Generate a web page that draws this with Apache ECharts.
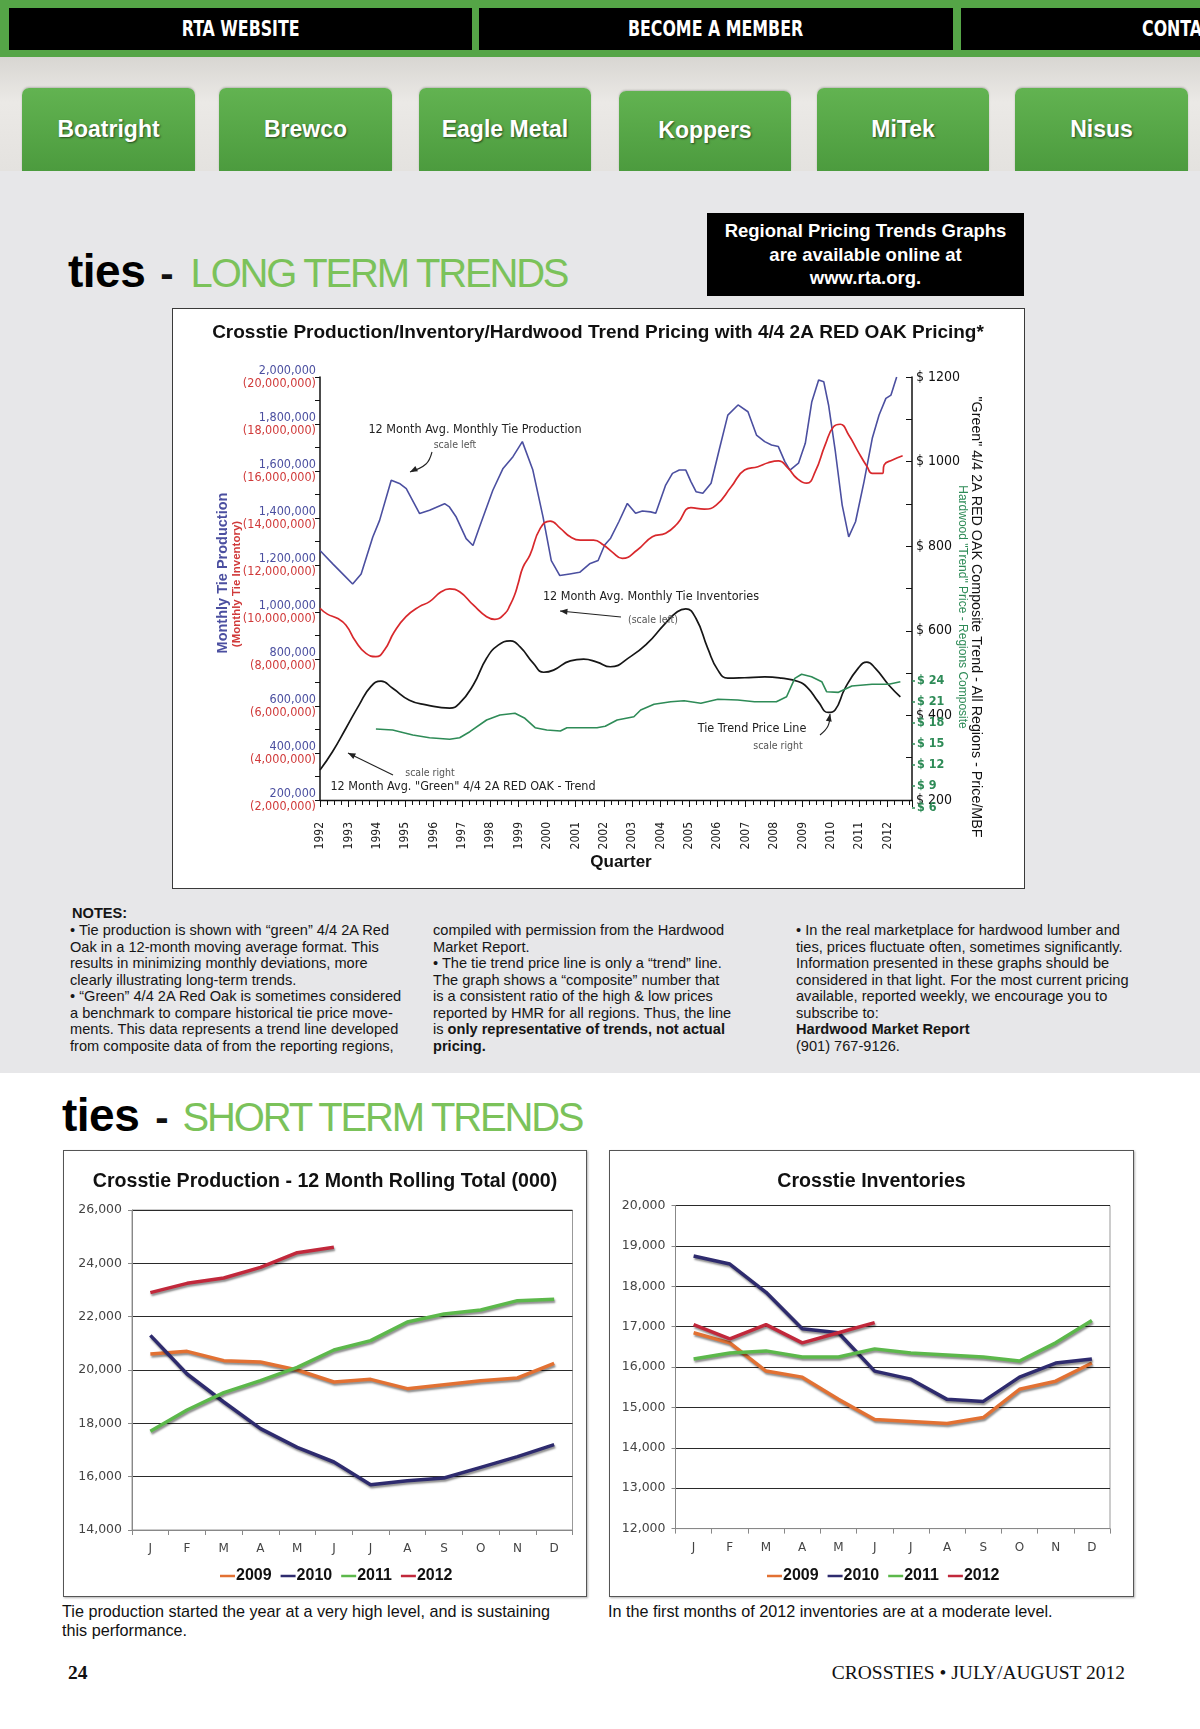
<!DOCTYPE html>
<html><head><meta charset="utf-8">
<script src="https://cdn.jsdelivr.net/npm/echarts@6/dist/echarts.min.js"></script>
<style>
html,body{margin:0;padding:0;width:1200px;height:1729px;overflow:hidden;background:#fff;font-family:'Liberation Sans',Arial,sans-serif;}
.abs{position:absolute;}
.nav{position:absolute;top:8px;height:42px;background:#000;color:#fff;text-align:center;font:bold 22px 'Liberation Sans Narrow','DejaVu Sans Condensed','Liberation Sans',sans-serif;line-height:42px;white-space:nowrap;overflow:hidden;}
.nav span{display:inline-block;transform:scaleX(0.8);}
.btn{position:absolute;top:88px;height:83px;border-radius:7px 7px 0 0;background:linear-gradient(#62b351,#4c9b3e);color:#fff;text-align:center;font:bold 23px 'Liberation Sans',Arial,sans-serif;line-height:83px;text-shadow:1px 1px 2px rgba(0,0,0,.55);box-shadow:0 -1px 2px rgba(0,0,0,.2);}
.head{position:absolute;white-space:nowrap;line-height:46px;}
.head .t{font:bold 46px 'Liberation Sans',Arial,sans-serif;color:#000;letter-spacing:-0.5px;}
.head .d{font:bold 40px 'Liberation Sans',Arial,sans-serif;color:#111;}
.head .g{font:40px 'Liberation Sans',Arial,sans-serif;color:#7bc25a;letter-spacing:-2.2px;}
.notes{position:absolute;font:14.6px 'Liberation Sans',Arial,sans-serif;line-height:16.5px;color:#151515;white-space:nowrap;}
.box{position:absolute;background:#fff;box-sizing:border-box;}
.cap{position:absolute;font:16.2px 'Liberation Sans',Arial,sans-serif;line-height:18.8px;color:#111;white-space:nowrap;}
</style></head><body>
<!-- navigation -->
<div class="abs" style="left:0;top:0;width:1200px;height:57px;background:#55a547;"></div>
<div class="nav" style="left:9px;width:463px;"><span>RTA WEBSITE</span></div>
<div class="nav" style="left:479px;width:474px;"><span>BECOME A MEMBER</span></div>
<div class="nav" style="left:961px;width:474px;"><span>CONTACT US</span></div>
<div class="abs" style="left:0;top:57px;width:1200px;height:114px;background:linear-gradient(#d8d6d2,#ebe9e6 40%,#e4e2df);"></div>
<div class="btn" style="left:22px;width:173px;">Boatright</div>
<div class="btn" style="left:219px;width:173px;">Brewco</div>
<div class="btn" style="left:419px;width:172px;">Eagle Metal</div>
<div class="btn" style="left:619px;width:172px;top:91px;height:80px;line-height:78px;">Koppers</div>
<div class="btn" style="left:817px;width:172px;">MiTek</div>
<div class="btn" style="left:1015px;width:173px;">Nisus</div>
<!-- grey section -->
<div class="abs" style="left:0;top:171px;width:1200px;height:902px;background:#e7e7e9;"></div>
<div class="head" style="left:68px;top:244px;"><span class="t">ties</span><span class="d" style="margin-left:15px;">-</span><span class="g" style="margin-left:17px;">LONG TERM TRENDS</span></div>
<div class="abs" style="left:707px;top:213px;width:317px;height:83px;background:#000;color:#fff;text-align:center;font:bold 18.5px 'Liberation Sans',Arial,sans-serif;line-height:23.5px;padding-top:6px;box-sizing:border-box;">Regional Pricing Trends Graphs<br>are available online at<br>www.rta.org.</div>
<div class="box" style="left:172px;top:308px;width:853px;height:581px;border:1.5px solid #3a3a3a;"></div>
<div id="c1" class="abs" style="left:172px;top:308px;width:853px;height:581px;"></div>
<div class="notes" style="left:72px;top:905px;font-weight:bold;">NOTES:</div>
<div class="notes" style="left:70px;top:922px;">• Tie production is shown with “green” 4/4 2A Red<br>Oak in a 12-month moving average format. This<br>results in minimizing monthly deviations, more<br>clearly illustrating long-term trends.<br>• “Green” 4/4 2A Red Oak is sometimes considered<br>a benchmark to compare historical tie price move-<br>ments. This data represents a trend line developed<br>from composite data of from the reporting regions,</div>
<div class="notes" style="left:433px;top:922px;">compiled with permission from the Hardwood<br>Market Report.<br>• The tie trend price line is only a “trend” line.<br>The graph shows a “composite” number that<br>is a consistent ratio of the high &amp; low prices<br>reported by HMR for all regions. Thus, the line<br>is <b>only representative of trends, not actual<br>pricing.</b></div>
<div class="notes" style="left:796px;top:922px;">• In the real marketplace for hardwood lumber and<br>ties, prices fluctuate often, sometimes significantly.<br>Information presented in these graphs should be<br>considered in that light. For the most current pricing<br>available, reported weekly, we encourage you to<br>subscribe to:<br><b>Hardwood Market Report</b><br>(901) 767-9126.</div>
<!-- short term -->
<div class="head" style="left:62px;top:1088px;"><span class="t">ties</span><span class="d" style="margin-left:16px;">-</span><span class="g" style="margin-left:14px;">SHORT TERM TRENDS</span></div>
<div class="box" style="left:63px;top:1150px;width:524px;height:447px;border:1px solid #555;box-shadow:1px 1px 2px rgba(0,0,0,.3);"></div>
<div id="c2" class="abs" style="left:63px;top:1150px;width:524px;height:447px;"></div>
<div class="box" style="left:609px;top:1150px;width:525px;height:447px;border:1px solid #555;box-shadow:1px 1px 2px rgba(0,0,0,.3);"></div>
<div id="c3" class="abs" style="left:609px;top:1150px;width:525px;height:447px;"></div>
<div class="cap" style="left:62px;top:1602px;">Tie production started the year at a very high level, and is sustaining<br>this performance.</div>
<div class="cap" style="left:608px;top:1602px;">In the first months of 2012 inventories are at a moderate level.</div>
<div class="abs" style="left:68px;top:1662px;font:bold 19.5px 'Liberation Serif','Times New Roman',serif;color:#111;">24</div>
<div class="abs" style="right:75px;top:1662px;font:19.5px 'Liberation Serif','Times New Roman',serif;color:#111;white-space:nowrap;">CROSSTIES • JULY/AUGUST 2012</div>
<script>
// ---------- long-term data ----------
const prodYears = [1992.0,1992.45,1992.86,1993.15,1993.45,1993.86,1994.10,1994.51,1994.80,1995.04,1995.51,1995.86,1996.39,1996.56,1996.80,1997.15,1997.39,1997.62,1998.09,1998.45,1998.80,1999.13,1999.50,1999.86,2000.15,2000.45,2000.80,2001.15,2001.50,2001.80,2002.03,2002.24,2002.53,2002.83,2003.12,2003.36,2003.65,2003.83,2004.18,2004.42,2004.66,2004.89,2005.07,2005.25,2005.49,2005.78,2006.08,2006.37,2006.73,2007.08,2007.38,2007.67,2007.91,2008.15,2008.38,2008.56,2008.86,2009.10,2009.33,2009.57,2009.75,2009.92,2010.16,2010.40,2010.63,2010.87,2011.17,2011.46,2011.70,2011.94,2012.12,2012.32];
const prodValues = [1262000,1205000,1155000,1119000,1162000,1319000,1390000,1561000,1547000,1525000,1419000,1433000,1461000,1447000,1404000,1312000,1283000,1362000,1518000,1611000,1661000,1725000,1604000,1404000,1219000,1155000,1162000,1169000,1205000,1219000,1285000,1314000,1384000,1462000,1420000,1430000,1426000,1420000,1540000,1590000,1604000,1604000,1555000,1512000,1505000,1548000,1697000,1838000,1881000,1852000,1753000,1725000,1711000,1704000,1640000,1604000,1633000,1718000,1895000,1987000,1980000,1881000,1682000,1455000,1320000,1384000,1555000,1739000,1838000,1909000,1923000,2000000];
const invYears = [1992.0,1992.26,1992.61,1992.91,1993.26,1993.62,1993.97,1994.27,1994.62,1995.03,1995.50,1995.86,1996.27,1996.57,1996.92,1997.40,1997.87,1998.16,1998.52,1998.70,1998.85,1998.98,1999.15,1999.40,1999.76,2000.11,2000.47,2000.82,2001.17,2001.64,2001.99,2002.30,2002.65,2003.18,2003.71,2004.18,2004.60,2005.07,2005.54,2005.96,2006.49,2006.96,2007.43,2007.79,2008.15,2008.50,2008.80,2009.15,2009.45,2009.80,2010.10,2010.33,2010.63,2010.93,2011.28,2011.46,2011.82,2011.88,2012.17,2012.53];
const invValues = [10160000,9910000,9730000,9450000,8740000,8240000,8100000,8380000,9160000,9800000,10230000,10440000,10860000,10980000,10860000,10300000,9800000,9690000,9940000,10300000,10700000,11200000,11900000,12430000,13560000,13870000,13560000,13200000,13060000,13060000,12850000,12550000,12280000,12640000,13200000,13350000,13770000,14440000,14380000,14550000,15330000,16040000,16180000,16350000,16430000,16110000,15690000,15480000,15970000,17110000,17890000,17990000,17530000,16890000,16180000,15900000,15900000,16260000,16470000,16650000];
const oakYears = [1992.0,1992.44,1992.91,1993.38,1993.79,1994.15,1994.56,1995.15,1995.74,1996.57,1996.92,1997.40,1997.87,1998.28,1998.70,1999.05,1999.52,1999.88,2000.23,2000.82,2001.29,2001.76,2002.23,2002.94,2003.53,2004.12,2004.59,2004.89,2005.25,2005.66,2006.02,2006.37,2006.96,2007.67,2008.26,2008.85,2009.20,2009.56,2009.91,2010.15,2010.50,2010.98,2011.27,2011.57,2012.04,2012.45];
const oakPrices = [271,314,369,425,468,481,464,436,425,417,429,472,535,566,576,562,523,502,507,529,533,526,515,539,570,614,645,652,629,559,507,488,489,491,488,480,464,432,407,413,464,513,526,511,472,444];
const tieYears = [1993.97,1994.56,1995.27,1995.86,1996.57,1996.92,1997.28,1997.87,1998.34,1998.87,1999.22,1999.58,1999.99,2000.47,2000.70,2001.29,2001.76,2002.05,2002.47,2003.06,2003.30,2003.77,2004.36,2004.83,2005.42,2006.02,2006.72,2007.31,2008.08,2008.44,2008.73,2008.97,2009.32,2009.68,2009.85,2010.27,2010.74,2011.45,2012.04,2012.45];
const tiePrices = [17.11,16.97,16.26,15.88,15.65,15.88,16.73,18.39,19.10,19.34,18.63,17.30,16.97,16.83,17.30,17.30,17.30,17.50,18.39,18.86,19.81,20.62,20.99,21.13,20.76,21.33,21.23,20.99,20.99,21.70,24.31,24.88,24.54,23.83,22.41,22.32,23.22,23.46,23.46,23.83];
// ---------- short-term data ----------
const months = ['J','F','M','A','M','J','J','A','S','O','N','D'];
const seriesYears = ['2009','2010','2011','2012'];
const prod2009 = [20600,20700,20350,20300,20000,19550,19650,19300,19450,19600,19700,20250];
const prod2010 = [21300,19850,18800,17800,17100,16550,15700,15850,15950,16350,16750,17200];
const prod2011 = [17700,18500,19150,19600,20100,20750,21100,21800,22100,22250,22600,22650];
const prod2012 = [22900,23250,23450,23850,24400,24600];
const inv2009 = [16850,16600,15900,15750,15200,14700,14650,14600,14750,15450,15650,16100];
const inv2010 = [18750,18550,17850,16950,16850,15900,15700,15200,15150,15750,16100,16200];
const inv2011 = [16200,16350,16400,16250,16250,16450,16350,16300,16250,16150,16600,17150];
const inv2012 = [17050,16700,17050,16600,16850,17100];

const narrow = "'Liberation Sans Narrow','DejaVu Sans Condensed','Liberation Sans',Arial,sans-serif";
const sans = "'Liberation Sans',Arial,sans-serif";
const zip = (a,b) => a.map((v,i)=>[v,b[i]]);
const fmt = v => Math.round(v).toLocaleString('en-US');

function txt(x,y,text,font,fill,rot){
  return {type:'text',x:x,y:y,rotation:rot||0,z:50,
    style:{text:text,font:font,fill:fill,align:'center',verticalAlign:'middle',textAlign:'center',textVerticalAlign:'middle'}};
}
function arrow(pts,color){
  const n=pts.length,[x2,y2]=pts[n-1],[x1,y1]=pts[n-2];
  const a=Math.atan2(y2-y1,x2-x1),L=8,w=0.38;
  return [
    {type:'polyline',z:50,shape:{points:pts,smooth:0.4},style:{stroke:color,lineWidth:1.1,fill:null}},
    {type:'polygon',z:50,shape:{points:[[x2,y2],[x2-L*Math.cos(a-w),y2-L*Math.sin(a-w)],[x2-L*Math.cos(a+w),y2-L*Math.sin(a+w)]]},style:{fill:color}}
  ];
}
const annFont = '12.5px ' + narrow, smallFont = '10.5px ' + narrow;
const blue='#4b4fa0', red='#d8282c', black='#161616', green='#2e8b57';

const c1 = echarts.init(document.getElementById('c1'), null, {renderer:'canvas'});
c1.setOption({
  animation:false,
  grid:[{left:148,right:113,top:69,bottom:89},{left:148,right:113,top:372.5,bottom:81.7}],
  xAxis:[
    {type:'value',gridIndex:0,min:1992,max:2012.86,interval:1,
     axisLine:{lineStyle:{color:'#111',width:1.4}},
     axisTick:{length:7,lineStyle:{color:'#111'}},
     minorTick:{show:true,splitNumber:4,length:5,lineStyle:{color:'#111'}},
     splitLine:{show:false},
     axisLabel:{rotate:90,fontSize:12,color:'#222',fontFamily:narrow,margin:22,showMaxLabel:false,
       formatter:v=>Math.abs(v-Math.round(v))<1e-6?String(Math.round(v)):''}},
    {type:'value',gridIndex:1,min:1992,max:2012.86,show:false}
  ],
  yAxis:[
    {type:'value',gridIndex:0,position:'left',min:200000,max:2000000,interval:200000,
     axisLine:{show:true,lineStyle:{color:'#111',width:1.5}},
     axisTick:{show:true,length:5,lineStyle:{color:'#111'}},
     minorTick:{show:true,splitNumber:2,length:5,lineStyle:{color:'#111'}},
     splitLine:{show:false},
     axisLabel:{margin:4,formatter:v=>'{b|'+fmt(v)+'}\n{r|('+fmt(v*10)+')}',
       rich:{b:{color:blue,fontSize:12.5,fontFamily:narrow,lineHeight:13,align:'right'},
             r:{color:'#d03a3a',fontSize:12.5,fontFamily:narrow,lineHeight:13,align:'right'}}}},
    {type:'value',gridIndex:0,position:'left',min:2000000,max:20000000,show:false},
    {type:'value',gridIndex:0,position:'right',min:200,max:1200,interval:200,
     axisLine:{show:true,lineStyle:{color:'#111',width:1.5}},
     axisTick:{show:true,inside:true,length:6,lineStyle:{color:'#111'}},
     minorTick:{show:true,splitNumber:2,length:6,lineStyle:{color:'#111'}},
     splitLine:{show:false},
     axisLabel:{formatter:v=>'$ '+v,fontSize:14,fontFamily:narrow,color:'#111',margin:4}},
    {type:'value',gridIndex:1,position:'right',min:6,max:24,interval:3,
     axisLine:{show:true,lineStyle:{color:'rgba(0,0,0,0)'}},
     axisTick:{show:true,length:3,lineStyle:{color:green,width:1.5}},
     splitLine:{show:false},
     axisLabel:{formatter:v=>'$ '+v,fontSize:12.5,fontWeight:'bold',fontFamily:narrow,color:green,margin:5}}
  ],
  series:[
    {name:'Tie Production',type:'line',xAxisIndex:0,yAxisIndex:0,data:zip(prodYears,prodValues),showSymbol:false,
     lineStyle:{color:blue,width:1.6},itemStyle:{color:blue}},
    {name:'Tie Inventories',type:'line',xAxisIndex:0,yAxisIndex:1,data:zip(invYears,invValues),showSymbol:false,smooth:0.5,
     lineStyle:{color:red,width:1.7},itemStyle:{color:red}},
    {name:'Red Oak Trend',type:'line',xAxisIndex:0,yAxisIndex:2,data:zip(oakYears,oakPrices),showSymbol:false,smooth:0.5,
     lineStyle:{color:black,width:1.7},itemStyle:{color:black}},
    {name:'Tie Trend Price',type:'line',xAxisIndex:1,yAxisIndex:3,data:zip(tieYears,tiePrices),showSymbol:false,clip:false,
     lineStyle:{color:green,width:1.6},itemStyle:{color:green}}
  ],
  graphic:[].concat(
    [txt(426,25,'Crosstie Production/Inventory/Hardwood Trend Pricing with 4/4 2A RED OAK Pricing*','bold 19px '+sans,'#111'),
     txt(51,265,'Monthly Tie Production','bold 14.5px '+sans,blue,Math.PI/2),
     txt(65,276,'(Monthly Tie Inventory)','bold 11.5px '+sans,'#d03a3a',Math.PI/2),
     txt(804,309,'"Green" 4/4 2A RED OAK Composite Trend - All Regions - Price/MBF','14.3px '+sans,'#111',-Math.PI/2),
     txt(790,299,'Hardwood "Trend" Price - Regions Composite','12px '+sans,green,-Math.PI/2),
     txt(449,554,'Quarter','bold 17px '+sans,'#111'),
     txt(303,122,'12 Month Avg. Monthly Tie Production',annFont,'#222'),
     txt(283,137,'scale left',smallFont,'#555'),
     txt(479,289,'12 Month Avg. Monthly Tie Inventories',annFont,'#222'),
     txt(481,312,'(scale left)',smallFont,'#555'),
     txt(580,421,'Tie Trend Price Line',annFont,'#222'),
     txt(606,438,'scale right',smallFont,'#555'),
     txt(291,479,'12 Month Avg. "Green" 4/4 2A RED OAK - Trend',annFont,'#222'),
     txt(258,465,'scale right',smallFont,'#555')],
    arrow([[260,144],[254,156],[238,164]],'#222'),
    arrow([[449,309],[388,303]],'#222'),
    arrow([[648,427],[656,418],[658,406]],'#222'),
    arrow([[221,467],[176,445]],'#222')
  )
});

const yearColors = ['#e27133','#2e2b6e','#5cb84b','#c1283b'];
function shortOption(title, grid, yMin, yMax, yInt, datasets, legendLeft){
  return {
    animation:false,
    title:{text:title,left:'center',top:17,textStyle:{fontFamily:sans,fontWeight:'bold',fontSize:19.6,color:'#111'}},
    grid:Object.assign({show:true,borderColor:'#999',borderWidth:1,backgroundColor:'transparent'},grid),
    legend:{left:legendLeft,top:413,icon:'rect',itemWidth:15,itemHeight:2.5,itemGap:9,
      textStyle:{fontFamily:sans,fontWeight:'bold',fontSize:16,color:'#111',padding:[0,0,0,-4]},
      data:seriesYears},
    xAxis:{type:'category',data:months,boundaryGap:true,
      axisLine:{lineStyle:{color:'#888'}},axisTick:{show:true,length:5,lineStyle:{color:'#888'}},
      axisLabel:{fontFamily:"'DejaVu Sans',Verdana,sans-serif",fontSize:12,color:'#444',margin:13}},
    yAxis:{type:'value',min:yMin,max:yMax,interval:yInt,
      axisLine:{show:true,lineStyle:{color:'#888'}},axisTick:{show:true,length:4,lineStyle:{color:'#888'}},
      splitLine:{lineStyle:{color:'#2a2a2a',width:1}},
      axisLabel:{fontFamily:"'DejaVu Sans',Verdana,sans-serif",fontSize:12.5,color:'#444',margin:10,formatter:v=>fmt(v)}},
    series:datasets.map((d,i)=>({name:seriesYears[i],type:'line',data:d,showSymbol:false,
      lineStyle:{color:yearColors[i],width:3.5,shadowColor:'rgba(0,0,0,0.45)',shadowBlur:2,shadowOffsetX:1,shadowOffsetY:2},
      itemStyle:{color:yearColors[i]}}))
  };
}
const c2 = echarts.init(document.getElementById('c2'));
c2.setOption(shortOption('Crosstie Production - 12 Month Rolling Total (000)',
  {left:69,right:14.5,top:60,bottom:67},14000,26000,2000,[prod2009,prod2010,prod2011,prod2012],152));
const c3 = echarts.init(document.getElementById('c3'));
c3.setOption(shortOption('Crosstie Inventories',
  {left:66.5,right:24,top:55.5,bottom:68.4},12000,20000,1000,[inv2009,inv2010,inv2011,inv2012],153));
</script>
</body></html>
